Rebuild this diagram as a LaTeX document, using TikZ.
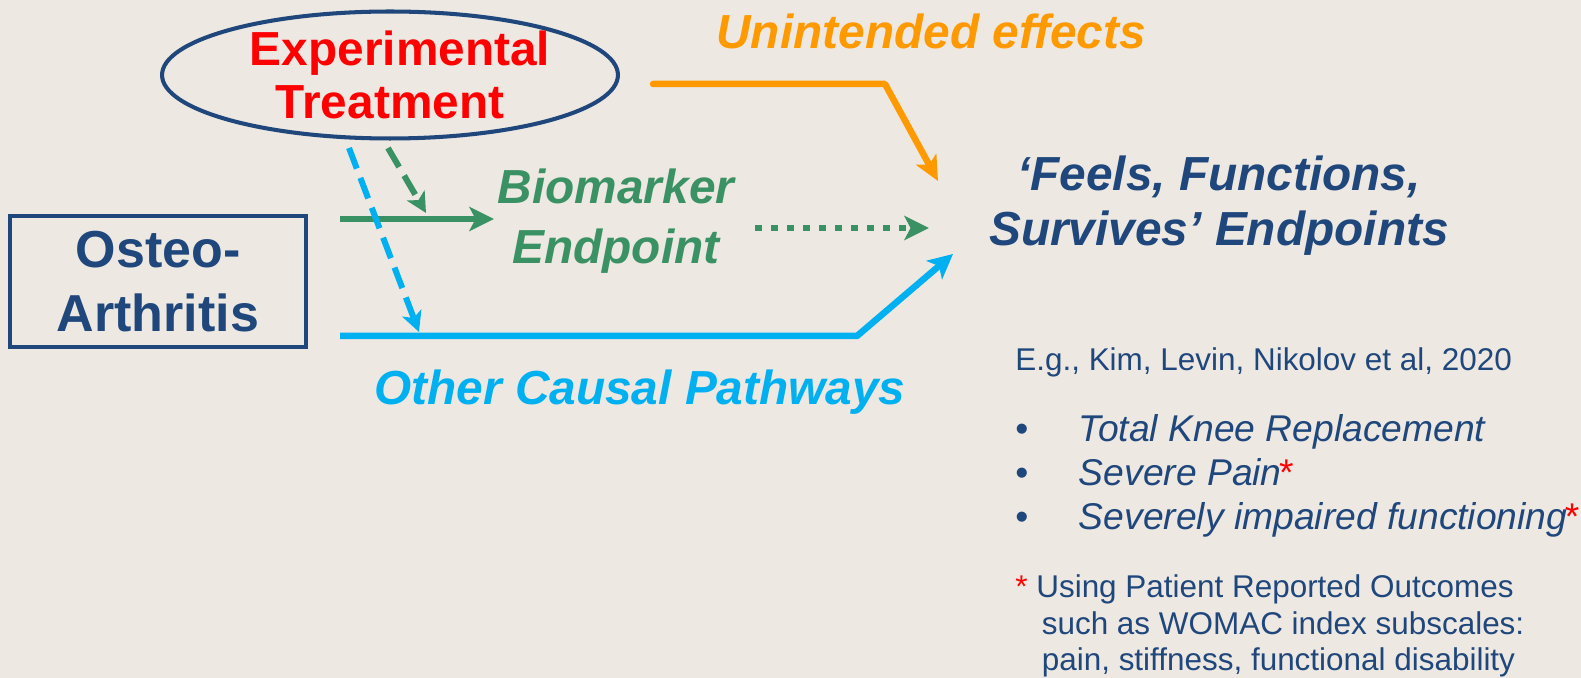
\documentclass[tikz,border=0pt]{standalone}
\usepackage{fontspec}
\setmainfont{Liberation Sans}
\usepackage{tikz}
\usetikzlibrary{arrows.meta,positioning,shapes.geometric}
\definecolor{navyblue}{RGB}{31,71,124}
\definecolor{slidebg}{RGB}{237,232,226}
\definecolor{markergreen}{RGB}{58,146,100}
\definecolor{pathblue}{RGB}{0,176,240}
\definecolor{effectorange}{RGB}{255,153,0}
\definecolor{treatred}{RGB}{255,0,0}
\tikzset{
  treatnode/.style={ellipse, draw=navyblue, line width=2.3pt, minimum width=9.12cm, minimum height=2.54cm,
                    inner sep=0pt, align=center, text=treatred, font=\fontsize{27.2}{30.2}\selectfont\bfseries},
  diseasebox/.style={rectangle, draw=navyblue, line width=2.3pt, minimum width=5.92cm, minimum height=2.62cm,
                     inner sep=0pt, align=center, text=navyblue, font=\fontsize{29.6}{36.4}\selectfont\bfseries},
  biglabel/.style={inner sep=0pt, align=center, font=\fontsize{27.2}{31.3}\selectfont\bfseries\itshape},
  reftext/.style={inner sep=0pt, align=left, text=navyblue, font=\fontsize{17.9}{20.8}\selectfont},
  listtext/.style={inner sep=0pt, align=left, text=navyblue, font=\fontsize{21.2}{25}\selectfont},
  arrowgreen/.style={-{Stealth[length=14pt, width=13.7pt, inset=3.5pt]}, line width=3.9pt, markergreen},
  arrowblue/.style={-{Stealth[length=14pt, width=13.7pt, inset=3.5pt]}, line width=3.7pt, pathblue, line join=round},
  arroworange/.style={-{Stealth[length=14pt, width=13pt, inset=3.5pt]}, line width=3.7pt, effectorange,
                      line cap=round, line join=round},
  smallhead/.style={-{Stealth[length=11.5pt, width=11.5pt, inset=3pt]}},
  dashline/.style={dash pattern=on 12.5pt off 5.7pt, line width=3.4pt},
  dotline/.style={dash pattern=on 3.8pt off 5.3pt},
}
\newcommand{\redstar}{\kern-1.5pt{\color{treatred}*}}

\begin{document}
\begin{tikzpicture}[x=0.02cm, y=-0.02cm]
\fill[slidebg] (0,0) rectangle (1581,678);
\useasboundingbox (0,0) rectangle (1581,678);

\node[treatnode] (tx) at (390,75) {\hspace*{0.4cm}Experimental\\Treatment};
\node[diseasebox] (oa) at (158,281.5) {Osteo-\\Arthritis};
\node[biglabel, text=markergreen, font=\fontsize{27.2}{34.1}\selectfont\bfseries\itshape] (bm) at (616,221) {Biomarker\\Endpoint};
\node[biglabel, text=navyblue] (ffs) at (1219,206) {‘Feels, Functions,\\Survives’ Endpoints};
\node[biglabel, text=effectorange, anchor=base] (ue) at (931,49) {Unintended effects};
\node[biglabel, text=pathblue, anchor=base] (ocp) at (640,405) {Other Causal Pathways};

\node[reftext, anchor=base west] (ref) at (1015,371) {E.g., Kim, Levin, Nikolov et al, 2020};
\node[listtext, below=0.73cm of ref.south west, anchor=north west] (kim) {%
  \makebox[1.27cm][l]{•}\textit{Total Knee Replacement}\\
  \makebox[1.27cm][l]{•}\textit{Severe Pain}\redstar\\
  \makebox[1.27cm][l]{•}\textit{Severely impaired functioning}\redstar};
\node[reftext, below=0.74cm of kim.south west, anchor=north west] (womac) {%
  {\color{treatred}*} Using Patient Reported Outcomes\\
  \hspace*{0.53cm}such as WOMAC index subscales:\\
  \hspace*{0.53cm}pain, stiffness, functional disability};

\coordinate (effFrom) at (653,84);
\coordinate (effBend) at (885,84);
\coordinate (effTo) at (938,181);
\coordinate (bmFrom) at (340,219);
\coordinate (bmTo) at (494,219);
\coordinate (dotFrom) at (755,228);
\coordinate (dotTo) at (929,228);
\coordinate (pathFrom) at (340,336);
\coordinate (pathBend) at (857,336);
\coordinate (pathTo) at (953,254);
\coordinate (gdFrom) at (388,148);
\coordinate (gdTo) at (426,213);
\coordinate (bdFrom) at (349,148);
\coordinate (bdTo) at (419,332);

\draw[arroworange] (effFrom) -- (effBend) -- (effTo);
\draw[arrowgreen] (bmFrom) -- (bmTo);
\draw[arrowgreen, dotline] (dotFrom) -- (dotTo);
\draw[arrowblue] (pathFrom) -- (pathBend) -- (pathTo);
\draw[arrowgreen, smallhead, dashline] (gdFrom) -- (gdTo);
\draw[arrowblue, smallhead, dashline] (bdFrom) -- (bdTo);
\end{tikzpicture}
\end{document}
